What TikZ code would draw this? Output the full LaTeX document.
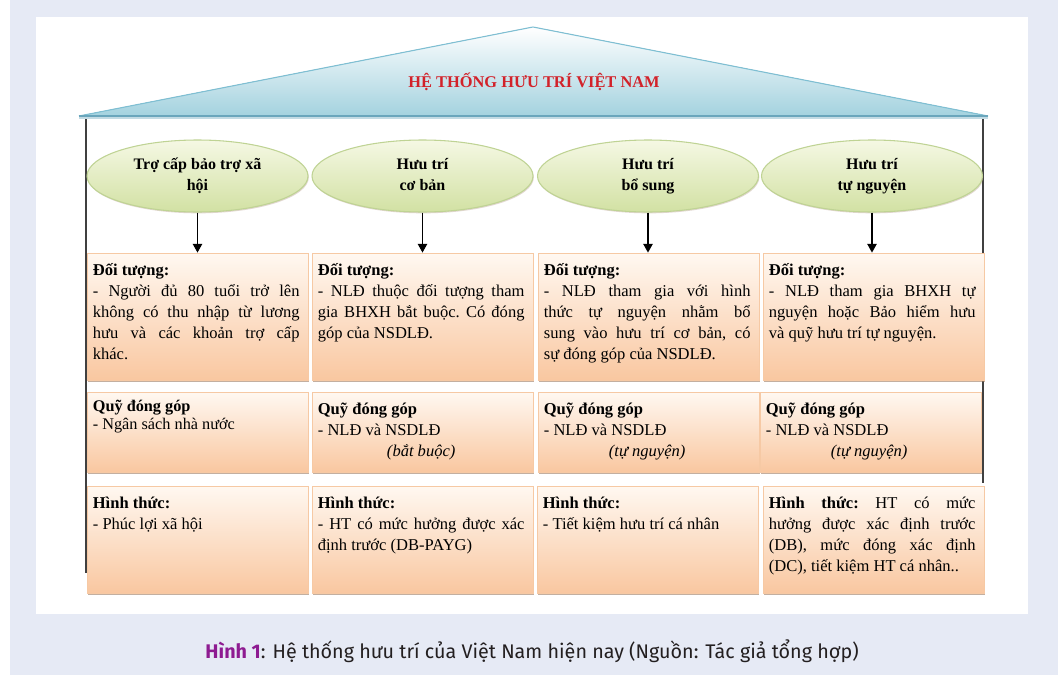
\documentclass[tikz,border=0pt]{standalone}
\usepackage{fontspec}
\setmainfont{Liberation Serif}
\newfontfamily\capfont{Fira Sans}
\usetikzlibrary{shapes.geometric,arrows.meta,shadows}
\definecolor{lav}{HTML}{E6EAF5}
\definecolor{roofblue}{HTML}{A4D2DF}
\definecolor{roofline}{HTML}{7EBFD3}
\definecolor{roofbase}{HTML}{6AA6BC}
\definecolor{ovtop}{HTML}{F5F8E4}
\definecolor{ovbot}{HTML}{D2E1A3}
\definecolor{ovline}{HTML}{BFD394}
\definecolor{boxtop}{HTML}{FFF8F1}
\definecolor{boxbot}{HTML}{F9C7A0}
\definecolor{boxline}{HTML}{F6C9A4}
\definecolor{shadowc}{HTML}{9C7B62}
\definecolor{headred}{HTML}{D2222A}
\definecolor{cappurple}{HTML}{8E1B91}
\definecolor{capdark}{HTML}{231F20}
\definecolor{vline}{HTML}{404040}
\newcommand\bodyf{\fontsize{12.4pt}{15.75pt}\selectfont\frenchspacing}
\newcommand\jline[1]{\makebox[\linewidth][s]{\spaceskip=0pt\xspaceskip=0pt\relax #1}\\}
\begin{document}
\begin{tikzpicture}[x=0.75pt,y=-0.75pt,
  box/.style={draw=boxline, line width=0.6pt, top color=boxtop, bottom color=boxbot,
    minimum width=165.75pt, inner sep=0pt,
    drop shadow={shadow xshift=0.9pt, shadow yshift=-1.3pt, fill=shadowc, opacity=0.6}},
  oval/.style={ellipse, draw=ovline, line width=0.8pt, top color=ovtop, bottom color=ovbot,
    minimum width=165.75pt, minimum height=54pt, inner sep=0pt, align=center,
    font=\fontsize{12pt}{15.75pt}\selectfont\bfseries,
    drop shadow={shadow xshift=0.6pt, shadow yshift=-1pt, fill=shadowc, opacity=0.3}},
  txt/.style={anchor=north west, inner sep=0pt, text width=155pt, align=justify, font=\bodyf},
  arr/.style={-{Triangle[length=6.5pt,width=7pt]}, line width=0.9pt, black},
  vl/.style={draw=vline, line width=1.1pt}
]
\useasboundingbox (0,0) rectangle (1058,675);
\fill[white] (0,0) rectangle (1058,675);
\fill[lav] (10,0) rectangle (1058,675);
\fill[white] (36,17) rectangle (1028,614);

% side posts
\coordinate (pl1) at (86,116);
\coordinate (pl2) at (86,573);
\coordinate (pr1) at (983,115);
\coordinate (pr2) at (983,483);
\draw[vl] (pl1) -- (pl2);
\draw[vl] (pr1) -- (pr2);

% roof
\coordinate (roofL) at (79,116);
\coordinate (roofT) at (533,27);
\coordinate (roofR) at (988,116);
\fill[top color=white, bottom color=roofblue] (roofL) -- (roofT) -- (roofR) -- cycle;
\draw[roofline, line width=0.8pt] (roofL) -- (roofT) -- (roofR);
\draw[roofbase!40, line width=2pt] ([yshift=-1.5pt]roofL) -- ([yshift=-1.5pt]roofR);
\draw[roofbase, line width=1.6pt] (roofL) -- (roofR);
\node[anchor=base, inner sep=0pt, text=headred, font=\fontsize{12.3pt}{14pt}\selectfont\bfseries] (title) at (534,87) {HỆ THỐNG HƯU TRÍ VIỆT NAM};

% ellipses
\node[oval] (e1) at (197.5,176) {\strut Trợ cấp bảo trợ xã\\\strut hội};
\node[oval] (e2) at (422.5,176) {\strut Hưu trí\\\strut cơ bản};
\node[oval] (e3) at (648,176) {\strut Hưu trí\\\strut bổ sung};
\node[oval] (e4) at (872,176) {\strut Hưu trí\\\strut tự nguyện};

% boxes row 1
\node[box, minimum height=95.25pt] (b11) at (197.5,316.5) {};
\node[box, minimum height=95.25pt] (b12) at (422.5,316.5) {};
\node[box, minimum height=95.25pt] (b13) at (648.5,316.5) {};
\node[box, minimum height=95.25pt] (b14) at (873.5,316.5) {};
% row 2
\node[box, minimum height=60pt] (b21) at (197.5,432) {};
\node[box, minimum height=60pt] (b22) at (422.5,432) {};
\node[box, minimum height=60pt] (b23) at (648.5,432) {};
\node[box, minimum height=60pt] (b24) at (870.5,432) {};
% row 3
\node[box, minimum height=80.25pt] (b31) at (197.5,539.5) {};
\node[box, minimum height=80.25pt] (b32) at (422.5,539.5) {};
\node[box, minimum height=80.25pt] (b33) at (647.5,539.5) {};
\node[box, minimum height=80.25pt] (b34) at (873.5,539.5) {};

% arrows
\draw[arr] (e1.south) -- (e1.south |- b11.north);
\draw[arr] (e2.south) -- (e2.south |- b12.north);
\draw[arr] (e3.south) -- (e3.south |- b13.north);
\draw[arr] (e4.south) -- (e4.south |- b14.north);

% texts row 1
\node[txt] (t11) at ([shift={(6,8)}]b11.north west) {\strut\textbf{Đối tượng:}\\
\jline{- Người đủ 80 tuổi trở lên}
\jline{không có thu nhập từ lương}
\jline{hưu và các khoản trợ cấp}
khác.};
\node[txt] (t12) at ([shift={(6,8)}]b12.north west) {\strut\textbf{Đối tượng:}\\
\jline{- NLĐ thuộc đối tượng tham}
\jline{gia BHXH bắt buộc. Có đóng}
góp của NSDLĐ.};
\node[txt] (t13) at ([shift={(6,8)}]b13.north west) {\strut\textbf{Đối tượng:}\\
\jline{- NLĐ tham gia với hình}
\jline{thức tự nguyện nhằm bổ}
\jline{sung vào hưu trí cơ bản, có}
sự đóng góp của NSDLĐ.};
\node[txt] (t14) at ([shift={(6,8)}]b14.north west) {\strut\textbf{Đối tượng:}\\
\jline{- NLĐ tham gia BHXH tự}
\jline{nguyện hoặc Bảo hiểm hưu}
và quỹ hưu trí tự nguyện.};

% texts row 2
\node[txt, font=\fontsize{12.2pt}{13.5pt}\selectfont] (t21) at ([shift={(6,7)}]b21.north west) {\strut\textbf{Quỹ đóng góp}\\
- Ngân sách nhà nước};
\node[txt] (t22) at ([shift={(6,8)}]b22.north west) {\strut\textbf{Quỹ đóng góp}\\
- NLĐ và NSDLĐ\\
\makebox[\linewidth]{\itshape (bắt buộc)}};
\node[txt] (t23) at ([shift={(6,8)}]b23.north west) {\strut\textbf{Quỹ đóng góp}\\
- NLĐ và NSDLĐ\\
\makebox[\linewidth]{\itshape (tự nguyện)}};
\node[txt] (t24) at ([shift={(6,8)}]b24.north west) {\strut\textbf{Quỹ đóng góp}\\
- NLĐ và NSDLĐ\\
\makebox[\linewidth]{\itshape (tự nguyện)}};

% texts row 3
\node[txt] (t31) at ([shift={(6,8)}]b31.north west) {\strut\textbf{Hình thức:}\\
- Phúc lợi xã hội};
\node[txt] (t32) at ([shift={(6,8)}]b32.north west) {\strut\textbf{Hình thức:}\\
\jline{- HT có mức hưởng được xác}
định trước (DB-PAYG)};
\node[txt] (t33) at ([shift={(6,8)}]b33.north west) {\strut\textbf{Hình thức:}\\
- Tiết kiệm hưu trí cá nhân};
\node[txt] (t34) at ([shift={(6,8)}]b34.north west) {\strut\jline{\textbf{Hình thức:} HT có mức}
\jline{hưởng được xác định trước}
\jline{(DB), mức đóng xác định}
(DC), tiết kiệm HT cá nhân..};

% caption
\node[anchor=base west, inner sep=0pt, font=\capfont\fontsize{14.8pt}{16pt}\selectfont, text=capdark] (cap) at (205,658)
  {\textcolor{cappurple}{\bfseries Hình 1}: Hệ thống hưu trí của Việt Nam hiện nay (Nguồn: Tác giả tổng hợp)};
\end{tikzpicture}
\end{document}
